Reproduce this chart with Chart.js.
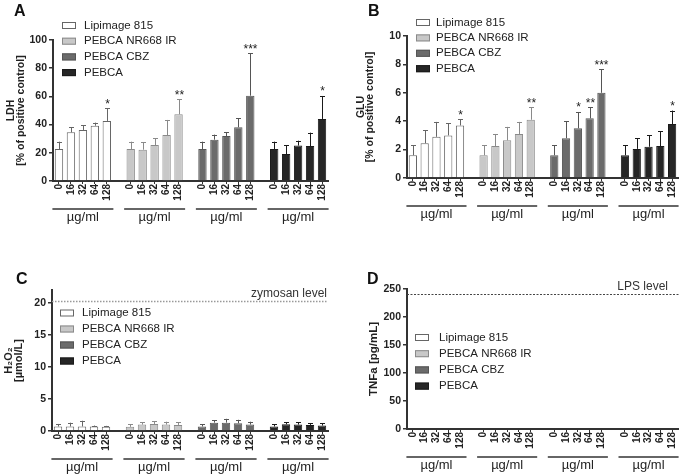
<!DOCTYPE html>
<html>
<head>
<meta charset="utf-8">
<script src="https://cdn.jsdelivr.net/npm/chart.js@4.4.0/dist/chart.umd.min.js"></script>
<style>
  body { margin: 0; background: #fff; width: 685px; height: 476px; position: relative; overflow: hidden; }
  canvas { position: absolute; }
  .letter { position: absolute; font: bold 16px "Liberation Sans", Arial, sans-serif; line-height: 1; color: #111; }
</style>
</head>
<body>
<canvas id="chartA" width="342" height="238" style="left:0;top:0"></canvas>
<canvas id="chartB" width="340" height="238" style="left:345px;top:0"></canvas>
<canvas id="chartC" width="342" height="238" style="left:0;top:238px"></canvas>
<canvas id="chartD" width="340" height="238" style="left:345px;top:238px"></canvas>
<div class="letter" style="left:14px;top:3px">A</div>
<div class="letter" style="left:368px;top:3px">B</div>
<div class="letter" style="left:16px;top:271px">C</div>
<div class="letter" style="left:367px;top:271px">D</div>
<script>
// doses and groups
const doses = ['0', '16', '32', '64', '128'];
const compounds = ['Lipimage 815', 'PEBCA NR668 IR', 'PEBCA CBZ', 'PEBCA'];
const unitLabel = 'µg/ml';

// A - LDH, % of positive control (mean, SD)
const ldhMean = [
  [22.7, 34.5, 36.2, 39.2, 42.6],
  [22.7, 22.2, 25.5, 32.6, 47.3],
  [22.7, 29.3, 31.9, 38.1, 60.5],
  [22.7, 19.1, 25.1, 24.8, 44.0]
];
const ldhSd = [
  [5.2, 3.8, 3.3, 2.2, 8.9],
  [5.2, 5.2, 4.8, 10.7, 10.6],
  [5.2, 3.6, 2.6, 6.3, 30.0],
  [5.2, 6.2, 3.5, 9.5, 16.3]
];
const ldhStars = [
  ['', '', '', '', '*'],
  ['', '', '', '', '**'],
  ['', '', '', '', '***'],
  ['', '', '', '', '*']
];

// B - GLU, % of positive control
const gluMean = [
  [1.6, 2.45, 2.9, 3.0, 3.7],
  [1.6, 2.25, 2.65, 3.1, 4.1],
  [1.6, 2.8, 3.5, 4.2, 6.0],
  [1.6, 2.05, 2.2, 2.25, 3.8]
];
const gluSd = [
  [0.7, 0.9, 1.05, 0.85, 0.45],
  [0.7, 0.85, 0.95, 0.85, 0.9],
  [0.7, 1.2, 1.15, 0.8, 1.65],
  [0.7, 0.75, 0.8, 1.05, 0.95]
];
const gluStars = [
  ['', '', '', '', '*'],
  ['', '', '', '', '**'],
  ['', '', '*', '**', '***'],
  ['', '', '', '', '*']
];

// C - H2O2, µmol/L
const h2o2Mean = [
  [0.7, 0.7, 0.7, 0.7, 0.65],
  [0.65, 1.0, 1.1, 1.0, 0.95],
  [0.7, 1.3, 1.3, 1.2, 1.0],
  [0.7, 1.05, 1.0, 0.95, 0.85]
];
const h2o2Sd = [
  [0.4, 0.6, 0.9, 0.15, 0.15],
  [0.4, 0.35, 0.4, 0.45, 0.4],
  [0.35, 0.35, 0.6, 0.55, 0.45],
  [0.35, 0.3, 0.4, 0.3, 0.4]
];
const zymosanLevel = 20.3;

// D - TNFa, pg/mL (nothing above zero)
const tnfMean = [
  [0, 0, 0, 0, 0],
  [0, 0, 0, 0, 0],
  [0, 0, 0, 0, 0],
  [0, 0, 0, 0, 0]
];
const tnfSd = [
  [0, 0, 0, 0, 0],
  [0, 0, 0, 0, 0],
  [0, 0, 0, 0, 0],
  [0, 0, 0, 0, 0]
];
const lpsLevel = 241.5;

const fills = ['#ffffff', '#c8c8c8', '#6b6b6b', '#262626'];
const edges = ['#666666', '#8a8a8a', '#555555', '#1a1a1a'];
const FONT = '"Liberation Sans", Arial, sans-serif';

// 5 doses per group with one empty slot between groups
const labels = [];
compounds.forEach((c, g) => {
  doses.forEach(d => labels.push(d));
  if (g < compounds.length - 1) labels.push('');
});
const slot = i => i * (doses.length + 1);

function makeDatasets(means) {
  return compounds.map((name, g) => {
    const data = labels.map(() => null);
    means[g].forEach((v, j) => { data[slot(g) + j] = v; });
    return {
      label: name,
      data: data,
      backgroundColor: fills[g],
      borderColor: edges[g],
      borderWidth: 1,
      borderSkipped: 'start',
      grouped: false,
      barPercentage: 0.7,
      categoryPercentage: 1
    };
  });
}

function extras(p) {
  return {
    id: 'extras',
    afterDatasetsDraw(chart) {
      const ctx = chart.ctx;
      const y = chart.scales.y;
      ctx.save();
      p.means.forEach((row, g) => {
        const meta = chart.getDatasetMeta(g);
        row.forEach((m, j) => {
          const bar = meta.data[slot(g) + j];
          const sd = p.sds[g][j];
          const top = y.getPixelForValue(m + sd);
          const x = Math.round(bar.x) + 0.5;
          if (sd > 0) {
            ctx.strokeStyle = edges[g];
            ctx.lineWidth = 1;
            ctx.beginPath();
            ctx.moveTo(x, bar.y);
            ctx.lineTo(x, top);
            ctx.moveTo(x - 2.5, Math.round(top) + 0.5);
            ctx.lineTo(x + 2.5, Math.round(top) + 0.5);
            ctx.stroke();
          }
          const s = p.stars ? p.stars[g][j] : '';
          if (s) {
            ctx.fillStyle = '#222';
            ctx.font = '12px ' + FONT;
            ctx.textAlign = 'center';
            ctx.textBaseline = 'alphabetic';
            ctx.fillText(s, x, top - 0.5);
          }
        });
      });
      ctx.restore();
    },
    afterDraw(chart) {
      const ctx = chart.ctx;
      const xs = chart.scales.x;
      const area = chart.chartArea;
      const step = xs.getPixelForValue(1) - xs.getPixelForValue(0);
      ctx.save();
      // group underline and unit
      compounds.forEach((c, g) => {
        const x1 = xs.getPixelForValue(slot(g)) - step * 0.55;
        const x2 = xs.getPixelForValue(slot(g) + doses.length - 1) + step * 0.55;
        ctx.strokeStyle = '#333';
        ctx.lineWidth = 1.5;
        ctx.beginPath();
        ctx.moveTo(x1, area.bottom + 28);
        ctx.lineTo(x2, area.bottom + 28);
        ctx.stroke();
        ctx.fillStyle = '#222';
        ctx.font = '13px ' + FONT;
        ctx.textAlign = 'center';
        ctx.textBaseline = 'alphabetic';
        ctx.fillText(unitLabel, (x1 + x2) / 2, area.bottom + 40);
      });
      // reference level
      if (p.ref) {
        const ry = Math.round(chart.scales.y.getPixelForValue(p.ref.value)) + 0.5;
        ctx.strokeStyle = p.ref.color;
        ctx.lineWidth = p.ref.width;
        ctx.setLineDash(p.ref.dash);
        ctx.beginPath();
        ctx.moveTo(area.left, ry);
        ctx.lineTo(area.right + p.ref.extend, ry);
        ctx.stroke();
        ctx.setLineDash([]);
        ctx.fillStyle = '#333';
        ctx.font = '12px ' + FONT;
        ctx.textAlign = 'right';
        ctx.textBaseline = 'alphabetic';
        ctx.fillText(p.ref.text, area.right - p.ref.inset, ry - 5);
      }
      // legend
      compounds.forEach((name, g) => {
        const cy = p.legend.y + g * p.legend.gap;
        ctx.fillStyle = fills[g];
        ctx.fillRect(p.legend.x, cy - 3, 14, 7);
        ctx.strokeStyle = edges[g];
        ctx.lineWidth = 1;
        ctx.strokeRect(p.legend.x + 0.5, cy - 2.5, 13, 6);
        ctx.fillStyle = '#222';
        ctx.font = '11.5px ' + FONT;
        ctx.textAlign = 'left';
        ctx.textBaseline = 'middle';
        ctx.fillText(name, p.legend.x + p.legend.textGap, cy + 0.5);
      });
      ctx.restore();
    }
  };
}

function makeChart(id, p) {
  const canvas = document.getElementById(id);
  const W = canvas.width, H = canvas.height;
  return new Chart(canvas, {
    type: 'bar',
    data: { labels: labels, datasets: makeDatasets(p.means) },
    options: {
      responsive: false,
      animation: false,
      layout: { padding: { top: p.area.top, right: W - p.area.right, bottom: 0, left: 0 } },
      plugins: { legend: { display: false }, tooltip: { enabled: false } },
      scales: {
        x: {
          type: 'category',
          offset: true,
          border: { color: '#333', width: 2 },
          grid: {
            drawOnChartArea: false,
            offset: false,
            tickLength: 3,
            color: c => (c.tick && c.tick.label === '') ? 'rgba(0,0,0,0)' : '#333'
          },
          ticks: {
            autoSkip: false,
            minRotation: 90,
            maxRotation: 90,
            padding: 0,
            color: '#222',
            font: { family: FONT, size: 10, weight: 'bold' }
          },
          afterFit: s => { s.height = H - p.area.bottom; }
        },
        y: {
          min: 0,
          max: p.max,
          border: { color: '#333', width: 2 },
          grid: { drawOnChartArea: false, tickLength: 4, color: '#333', lineWidth: 1.5 },
          ticks: {
            stepSize: p.step,
            padding: 2,
            color: '#222',
            font: { family: FONT, size: 10.5, weight: 'bold' }
          },
          afterBuildTicks: s => { s.ticks = s.ticks.filter(t => t.value % p.step === 0); },
          title: {
            display: true,
            text: p.title,
            color: '#222',
            padding: { top: p.titlePad, bottom: 0 },
            font: { family: FONT, size: p.titleSize, weight: 'bold', lineHeight: p.titleLine }
          },
          afterFit: s => { s.width = p.area.left; }
        }
      }
    },
    plugins: [extras(p)]
  });
}

makeChart('chartA', {
  means: ldhMean, sds: ldhSd, stars: ldhStars, max: 100, step: 20,
  title: ['LDH', '[% of positive control]'], titleSize: 10.5, titleLine: 0.9, titlePad: 6.5,
  area: { left: 53, top: 40, right: 328, bottom: 181 },
  legend: { x: 62, y: 25, gap: 15.7, textGap: 22 }
});
makeChart('chartB', {
  means: gluMean, sds: gluSd, stars: gluStars, max: 10, step: 2,
  title: ['GLU', '[% of positive control]'], titleSize: 10.5, titleLine: 0.9, titlePad: 11,
  area: { left: 62, top: 36, right: 333, bottom: 178 },
  legend: { x: 71, y: 22, gap: 15.4, textGap: 20 }
});
makeChart('chartC', {
  means: h2o2Mean, sds: h2o2Sd, stars: null, max: 22, step: 5,
  title: ['H₂O₂', '[µmol/L]'], titleSize: 11, titleLine: 0.9, titlePad: 4.5,
  area: { left: 52, top: 52, right: 328, bottom: 193 },
  legend: { x: 60, y: 74.5, gap: 16, textGap: 22 },
  ref: { value: zymosanLevel, text: 'zymosan level', color: '#999', width: 1.5, dash: [1.5, 1.5], extend: 0, inset: 1 }
});
makeChart('chartD', {
  means: tnfMean, sds: tnfSd, stars: null, max: 250, step: 50,
  title: 'TNFa [pg/mL]', titleSize: 11.5, titleLine: 1.1, titlePad: 23,
  area: { left: 62, top: 51, right: 333, bottom: 191 },
  legend: { x: 70, y: 99, gap: 16.2, textGap: 24 },
  ref: { value: lpsLevel, text: 'LPS level', color: '#444', width: 1, dash: [2, 1.5], extend: 2, inset: 10 }
});
</script>
</body>
</html>
